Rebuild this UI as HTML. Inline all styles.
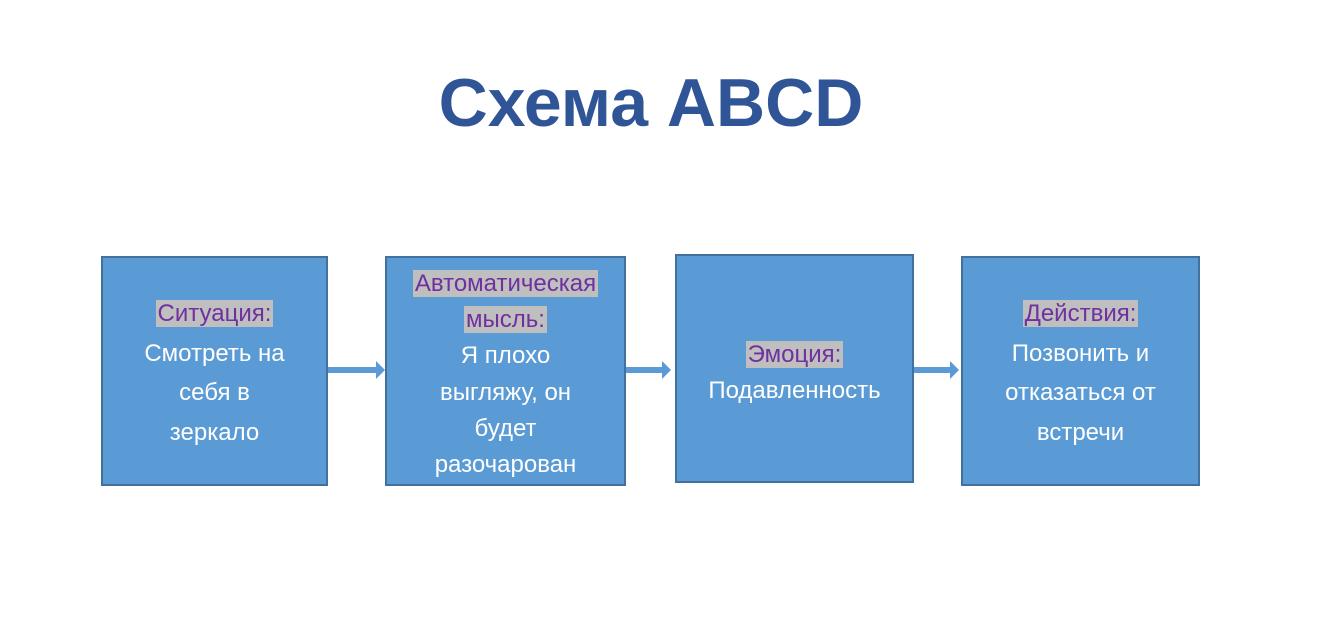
<!DOCTYPE html>
<html><head><meta charset="utf-8"><style>
body{margin:0;width:1332px;height:634px;background:#fff;position:relative;overflow:hidden;font-family:"Liberation Sans","DejaVu Sans",sans-serif}
.t{position:absolute;left:0;width:1302px;top:64px;text-align:center;font-size:68px;font-weight:bold;color:#2f5597}
.b{position:absolute;background:#5b9bd5;border:2px solid #41719c;box-sizing:border-box;display:flex;flex-direction:column;align-items:center;justify-content:center;text-align:center;color:#fff;font-size:24px;line-height:39.5px}
.h{color:#7030a0;background:#bfbfbf;padding:0 2px}
.a{position:absolute;height:6px;background:#5b9bd5}
.ah{position:absolute;width:0;height:0;border-top:9px solid transparent;border-bottom:9px solid transparent;border-left:9px solid #5b9bd5}
</style></head><body>
<div class="t">Схема ABCD</div>
<div class="b" style="left:101px;top:256px;width:227px;height:230px;padding-top:4px"><div><span class="h">Ситуация:</span></div><div>Смотреть на</div><div>себя в</div><div>зеркало</div></div>
<div class="b" style="left:385px;top:256px;width:241px;height:230px;justify-content:flex-start;padding-top:8px;line-height:36.2px"><div><span class="h">Автоматическая</span></div><div><span class="h">мысль:</span></div><div>Я плохо</div><div>выгляжу, он</div><div>будет</div><div>разочарован</div></div>
<div class="b" style="left:675px;top:254px;width:239px;height:229px;padding-top:8px;line-height:36px"><div><span class="h">Эмоция:</span></div><div>Подавленность</div></div>
<div class="b" style="left:961px;top:256px;width:239px;height:230px;padding-top:4px"><div><span class="h">Действия:</span></div><div>Позвонить и</div><div>отказаться от</div><div>встречи</div></div>
<div class="a" style="left:328px;top:367px;width:50px"></div><div class="ah" style="left:376px;top:361px"></div>
<div class="a" style="left:626px;top:367px;width:37px"></div><div class="ah" style="left:662px;top:361px"></div>
<div class="a" style="left:914px;top:367px;width:38px"></div><div class="ah" style="left:950px;top:361px"></div>
</body></html>
